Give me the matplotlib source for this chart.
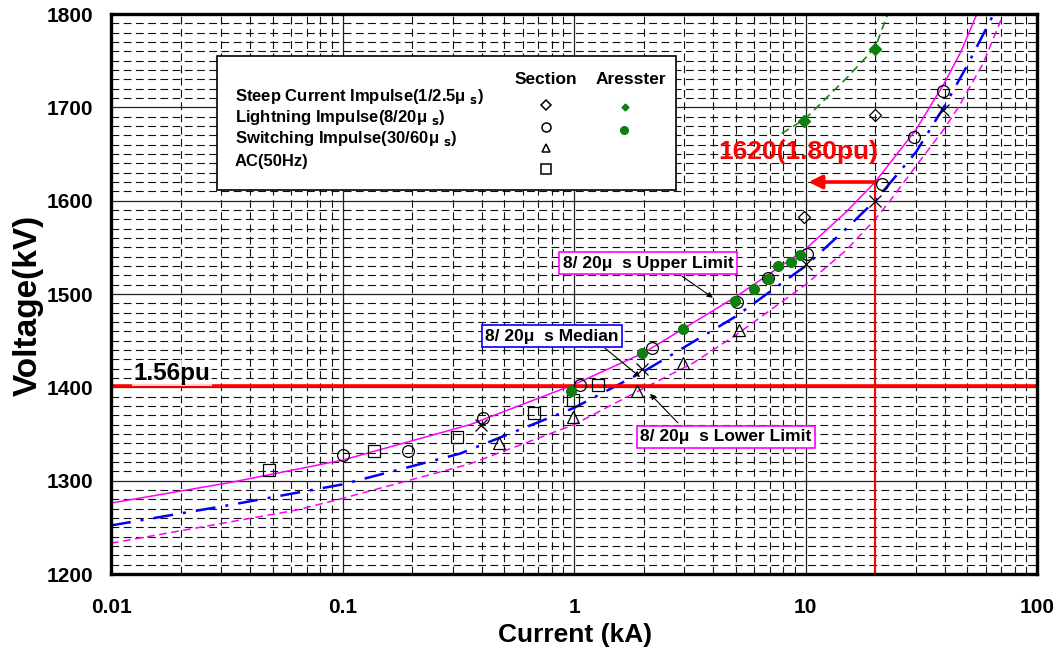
import numpy as np
import matplotlib
matplotlib.use("Agg")
import matplotlib.pyplot as plt
from matplotlib.ticker import LogLocator, MultipleLocator, FixedLocator, FixedFormatter, NullFormatter
from matplotlib.patches import Rectangle

plt.rcParams['font.family'] = ['Liberation Sans', 'DejaVu Sans']

# ---------------- data ----------------
# Section, lightning impulse (circles)
li_x = [0.1, 0.192, 0.403, 1.06, 2.17, 5.06, 6.9, 10.1, 21.3, 29.5, 39.4]
li_v = [1327, 1332, 1367, 1402, 1442, 1491, 1517, 1543, 1618, 1668, 1718]
# Section, AC 50 Hz (squares)
ac_x = [0.048, 0.137, 0.311, 0.674, 0.987, 1.265]
ac_v = [1311, 1332, 1347, 1372, 1386, 1402]
# Section, switching impulse (triangles)
sw_x = [0.476, 0.993, 1.88, 2.97, 5.16]
sw_v = [1340, 1368, 1396, 1426, 1461]
# Section, steep current impulse (diamonds)
st_x = [9.85, 20]
st_v = [1582, 1692]
# Median marks (x)
md_x = [0.395, 1.97, 10, 20, 39.4]
md_v = [1360, 1420, 1532, 1600, 1697]
# Arrester, lightning impulse (green dots)
ar_li_x = [0.97, 1.96, 2.95, 4.96, 6.01, 6.91, 7.63, 8.66, 9.46]
ar_li_v = [1396, 1437, 1462, 1492, 1505, 1516, 1530, 1534, 1542]
# Arrester, steep current impulse (green diamonds) + dashed curve
ar_st_x = [9.85, 20]
ar_st_v = [1685, 1763]
ar_curve_x = [7.9, 10, 15, 20, 22.5]
ar_curve_v = [1672, 1688, 1731, 1764, 1798]

# 8/20us curves
up_x = [0.01, 0.0327, 0.1, 0.355, 1, 2, 5, 10, 15, 20, 30, 40, 47, 55]
up_v = [1276, 1298, 1322, 1360, 1403, 1437, 1497, 1548, 1588, 1620, 1676, 1727, 1760, 1800]
med_x = [0.01, 0.0327, 0.1, 0.322, 1, 2, 5, 10, 15, 20, 30, 40, 50, 65]
med_v = [1252, 1274, 1296, 1329, 1378, 1417, 1476, 1530, 1570, 1600, 1652, 1702, 1745, 1800]
lo_x = [0.01, 0.0636, 0.1, 0.355, 1, 2, 3.27, 5, 10, 15, 20, 23.2, 30, 40, 46, 58.5, 70]
lo_v = [1233, 1268.6, 1281, 1318, 1360, 1399, 1426, 1456, 1510, 1547, 1580, 1600, 1637, 1678, 1701, 1747, 1794]

pu156_v = 1401
i_ref = 20
v_ref = 1620
v_arrow_end_x = 10.3

xticks = [0.01, 0.1, 1, 10, 100]
xtick_labels = ['0.01', '0.1', '1', '10', '100']
yticks = [1200, 1300, 1400, 1500, 1600, 1700, 1800]

# ---------------- figure ----------------
W, H = 1059, 648
fig = plt.figure(figsize=(W / 100, H / 100), dpi=100)
L, R, T, B = 111, 1037, 14, 574
ax = fig.add_axes([L / W, 1 - B / H, (R - L) / W, (B - T) / H])
ax.set_xscale('log')
ax.set_xlim(0.01, 100)
ax.set_ylim(1200, 1800)

ax.xaxis.set_major_locator(FixedLocator(xticks))
ax.xaxis.set_major_formatter(FixedFormatter(xtick_labels))
ax.xaxis.set_minor_locator(LogLocator(base=10, subs=np.arange(2, 10)))
ax.xaxis.set_minor_formatter(NullFormatter())
ax.yaxis.set_major_locator(FixedLocator(yticks))
ax.yaxis.set_minor_locator(MultipleLocator(10))

ax.grid(which='major', color='#222222', lw=0.9, ls='-', zorder=0)
ax.grid(which='minor', color='#111111', lw=0.8, ls=(0, (7, 4)), zorder=0)
ax.set_axisbelow(True)
ax.tick_params(which='both', length=0)
ax.tick_params(axis='y', pad=13, labelsize=15)
ax.tick_params(axis='x', pad=17, labelsize=15)
for lab in ax.get_xticklabels() + ax.get_yticklabels():
    lab.set_fontweight('bold')
for s in ax.spines.values():
    s.set_linewidth(2.4)
    s.set_zorder(10)

# curves
ax.plot(up_x, up_v, color='#FF00FF', lw=1.1, zorder=3)
ax.plot(med_x, med_v, color='#0000FF', lw=1.8, ls=(0, (8, 4, 1.2, 4)), zorder=3)
ax.plot(lo_x, lo_v, color='#FF00FF', lw=1.1, ls=(0, (5, 3)), zorder=3)
ax.plot(ar_curve_x, ar_curve_v, color='#1a8a1a', lw=1.2, ls=(0, (5, 3)), zorder=3)

# red reference lines
ax.axhline(pu156_v, color='#FF0000', lw=2.6, zorder=4)
ax.plot([i_ref, i_ref], [1200, v_ref], color='#FF0000', lw=1.5, zorder=4)
ax.annotate('', xy=(v_arrow_end_x, v_ref), xytext=(i_ref, v_ref),
            arrowprops=dict(arrowstyle='-|>', color='#FF0000', lw=2.6,
                            mutation_scale=20, shrinkA=0, shrinkB=0), zorder=5)

# markers
mk = dict(linestyle='none', markerfacecolor='none', markeredgecolor='black', markeredgewidth=0.9, zorder=6)
ax.plot(li_x, li_v, marker='o', markersize=8.5, **mk)
ax.plot(ac_x, ac_v, marker='s', markersize=8, **mk)
ax.plot(sw_x, sw_v, marker='^', markersize=9, **mk)
ax.plot(st_x, st_v, marker='D', markersize=6.5, **mk)
ax.plot(md_x, md_v, marker='x', markersize=9, linestyle='none', color='black', markeredgewidth=0.9, zorder=6)
ax.plot(ar_li_x, ar_li_v, marker='o', markersize=7, linestyle='none', color='#0f7f0f', zorder=7)
ax.plot(ar_st_x, ar_st_v, marker='D', markersize=6, linestyle='none', color='#0f7f0f', zorder=7)

# text annotations
ax.text(0.0125, 1415, '1.56pu', fontsize=17.5, fontweight='bold', color='black', va='center', ha='left',
        zorder=8, bbox=dict(facecolor='white', edgecolor='none', pad=1, alpha=0.8))
ax.text(4.19, 1652, '1620(1.80pu)', fontsize=19, fontweight='bold', color='#FF0000', va='center', ha='left', zorder=8)

box_kw = dict(fontsize=12.5, fontweight='bold', ha='center', va='center', zorder=9)
ax.text(2.087, 1533, '8/ 20μ  s Upper Limit',
        bbox=dict(facecolor='white', edgecolor='#FF00FF', lw=1.2, pad=2.5), **box_kw)
ax.text(0.803, 1455, '8/ 20μ  s Median',
        bbox=dict(facecolor='white', edgecolor='#0000FF', lw=1.2, pad=2.5), **box_kw)
ax.text(4.536, 1347, '8/ 20μ  s Lower Limit',
        bbox=dict(facecolor='white', edgecolor='#FF00FF', lw=1.2, pad=2.5), **box_kw)
ap = dict(arrowstyle='-|>', color='black', lw=0.8, mutation_scale=8, shrinkA=0, shrinkB=0)
ax.annotate('', xy=(3.98, 1496), xytext=(2.93, 1519), arrowprops=ap, zorder=8)
ax.annotate('', xy=(1.93, 1411), xytext=(1.36, 1442), arrowprops=ap, zorder=8)
ax.annotate('', xy=(2.13, 1393), xytext=(2.81, 1362), arrowprops=ap, zorder=8)

# legend box (axes fraction)
def fx(px):
    return (px - L) / (R - L)
def fy(py):
    return (B - py) / (B - T)

ax.add_patch(Rectangle((fx(217), fy(190)), fx(676) - fx(217), fy(56) - fy(190), transform=ax.transAxes,
                       facecolor='white', edgecolor='black', lw=1.2, zorder=11))
leg_labels = ['Steep Current Impulse(1/2.5μ $_\\mathbf{s}$)', 'Lightning Impulse(8/20μ $_\\mathbf{s}$)',
              'Switching Impulse(30/60μ $_\\mathbf{s}$)', 'AC(50Hz)']
for lab, py in zip(leg_labels, [96, 117, 138, 161]):
    ax.text(fx(235), fy(py), lab, transform=ax.transAxes, fontsize=12, fontweight='bold',
            ha='left', va='center', zorder=12)
ax.text(fx(546), fy(79), 'Section', transform=ax.transAxes, fontsize=12.5, fontweight='bold',
        ha='center', va='center', zorder=12)
ax.text(fx(631), fy(79), 'Aresster', transform=ax.transAxes, fontsize=12.5, fontweight='bold',
        ha='center', va='center', zorder=12)
for m, py, ms in zip(['D', 'o', '^', 's'], [105, 127, 148, 169], [5, 6.5, 5.5, 6.5]):
    ax.plot([fx(546)], [fy(py)], marker=m, markersize=ms, markerfacecolor='none', markeredgecolor='black',
            markeredgewidth=1.1, transform=ax.transAxes, zorder=12, clip_on=False)
ax.plot([fx(625)], [fy(107)], marker='D', markersize=3.5, color='#0f7f0f', transform=ax.transAxes, zorder=12)
ax.plot([fx(624)], [fy(130)], marker='o', markersize=5.5, color='#0f7f0f', transform=ax.transAxes, zorder=12)

# axis labels
fig.text(28 / W, 1 - 305 / H, 'Voltage(kV)', rotation=90, fontsize=24, fontweight='bold',
         ha='center', va='center')
fig.text(575 / W, 1 / H, 'Current (kA)', fontsize=19, fontweight='bold', ha='center', va='bottom')

fig.savefig('out.png', dpi=100)
